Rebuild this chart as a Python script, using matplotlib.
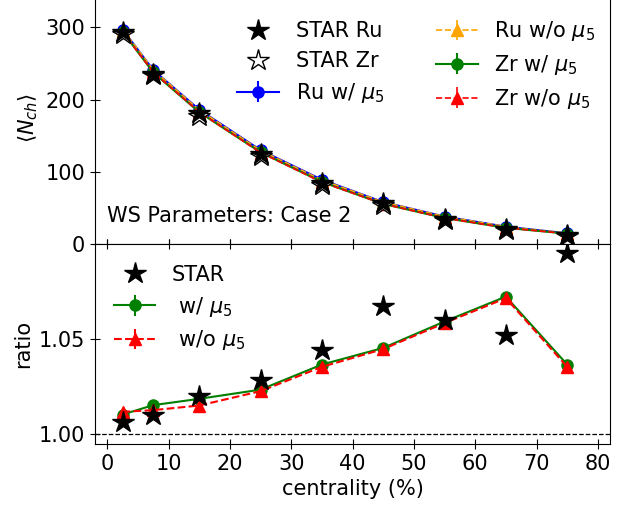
import numpy as np
import matplotlib.pyplot as plt

# centrality bins
cent = [2.5, 7.5, 15, 25, 35, 45, 55, 65, 75]

# <N_ch>
star_ru = [293, 236, 181, 125, 85, 57, 35, 21, 12.5]
star_zr = [291, 233.5, 177.5, 121.5, 81.5, 53.5, 33, 20, 11.4]
ru_w = [297, 241, 186, 130, 89, 58, 38, 24, 14.8]
ru_wo = [297, 241, 185.5, 129.5, 88.5, 58, 38, 24, 14.8]
zr_w = [294, 237.5, 182.5, 127, 86, 55.5, 36, 22.4, 14.3]
zr_wo = [293.5, 238, 182.7, 126.6, 85.5, 55.5, 36, 22.4, 14.3]
err_n = [1.5, 1.3, 1.1, 0.9, 0.7, 0.5, 0.4, 0.3, 0.2]

# ratio Ru/Zr
ratio_star = [1.0064, 1.0104, 1.0200, 1.0286, 1.0443, 1.0672, 1.0599, 1.0517, 1.0946]
ratio_w = [1.0104, 1.0153, 1.0186, 1.0234, 1.0365, 1.0452, 1.0590, 1.0720, 1.0365]
ratio_wo = [1.0118, 1.0127, 1.0151, 1.0226, 1.0353, 1.0446, 1.0582, 1.0712, 1.0353]
err_r = [0.0008, 0.0008, 0.0008, 0.0008, 0.0009, 0.0010, 0.0012, 0.0014, 0.0016]

plt.rcParams['font.size'] = 15
plt.rcParams['mathtext.fontset'] = 'dejavusans'

fig = plt.figure(figsize=(6.29, 5.08), dpi=100)
ax1 = fig.add_axes([0.151, 0.5197, 0.819, 0.4975])
ax2 = fig.add_axes([0.151, 0.126, 0.819, 0.3937], sharex=ax1)

# upper panel
ax1.plot(cent, star_ru, '*', color='black', ms=16, label='STAR Ru', zorder=6)
ax1.plot(cent, star_zr, '*', mfc='white', mec='black', ms=16, label='STAR Zr', zorder=5)
ax1.errorbar(cent, ru_w, yerr=err_n, fmt='o-', color='blue', ms=8, lw=1.5, label=r'Ru w/ $\mu_5$')
ax1.errorbar(cent, ru_wo, yerr=err_n, fmt='^--', color='orange', ms=8, lw=1.2, label=r'Ru w/o $\mu_5$')
ax1.errorbar(cent, zr_w, yerr=err_n, fmt='o-', color='green', ms=8, lw=1.5, label=r'Zr w/ $\mu_5$')
ax1.errorbar(cent, zr_wo, yerr=err_n, fmt='^--', color='red', ms=8, lw=1.2, label=r'Zr w/o $\mu_5$')
ax1.set_ylim(0, 350)
ax1.set_yticks([0, 100, 200, 300])
ax1.set_ylabel(r'$\langle N_{ch} \rangle$')
ax1.text(0.024, 0.11, 'WS Parameters: Case 2', transform=ax1.transAxes, va='center')
ax1.legend(ncol=2, frameon=False, loc='upper right', bbox_to_anchor=(1.0, 0.947),
           columnspacing=2.5, handletextpad=0.8, labelspacing=0.47, borderaxespad=0.3)
ax1.tick_params(labelbottom=False)

# lower panel
ax2.plot(cent, ratio_star, '*', color='black', ms=16, label='STAR', zorder=6)
ax2.errorbar(cent, ratio_w, yerr=err_r, fmt='o-', color='green', ms=8, lw=1.5, label=r' w/ $\mu_5$')
ax2.errorbar(cent, ratio_wo, yerr=err_r, fmt='^--', color='red', ms=8, lw=1.5, label=r' w/o $\mu_5$')
ax2.axhline(1.0, color='black', ls='--', lw=0.9)
ax2.set_ylim(0.995, 1.0995)
ax2.set_yticks([1.00, 1.05])
ax2.set_xlim(-2, 82)
ax2.set_xticks(range(0, 81, 10))
ax2.set_xlabel('centrality (%)')
ax2.set_ylabel('ratio')
ax2.legend(frameon=False, loc='upper left', bbox_to_anchor=(0.0, 0.99), labelspacing=0.47)

for ax in (ax1, ax2):
    ax.tick_params(direction='inout', length=7, top=True)

fig.savefig('out.png', dpi=100)
